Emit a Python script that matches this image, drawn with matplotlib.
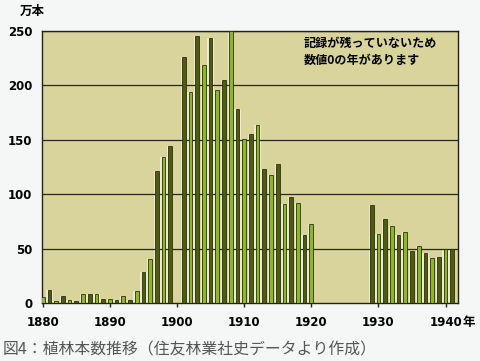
import numpy as np
import matplotlib.pyplot as plt

plt.rcParams['font.family'] = ['DejaVu Sans', 'Noto Sans CJK JP']

# dane: liczba sadzonek (万本) w kolejnych latach
years = list(range(1880, 1942))
values = [5, 12, 2, 6, 3, 2, 8, 8, 8, 4,
          4, 3, 6, 3, 11, 28, 40, 121, 134, 144,
          0, 226, 194, 245, 219, 244, 196, 205, 250, 178,
          151, 155, 164, 123, 118, 128, 91, 97, 92, 62,
          73, 0, 0, 0, 0, 0, 0, 0, 0, 90,
          63, 77, 71, 62, 65, 48, 52, 46, 41, 42,
          50, 50]
yticks = [0, 50, 100, 150, 200, 250]
xticks = [1880, 1890, 1900, 1910, 1920, 1930, 1940]
xlabels = ['1880', '1890', '1900', '1910', '1920', '1930', '1940']
note = '記録が残っていないため\n数値0の年があります'
caption = '図4：植林本数推移（住友林業社史データより作成）'

fig = plt.figure(figsize=(4.8, 3.61), dpi=100)
fig.patch.set_facecolor('#f4f7f5')
ax = fig.add_axes([0.0875, 0.161, 0.866, 0.753])
ax.set_facecolor('#d8d49c')

x = np.array(years)
y = np.array(values)
colors = ['#8db826' if yr % 2 == 0 else '#4e5c12' for yr in years]

# jasne tlo pod slupkami
ax.bar(x, y, width=0.95, color='#eeead0', edgecolor='none', zorder=1)
for v in yticks[1:]:
    ax.axhline(v, color='#2a2a1c', lw=0.9, zorder=2)
ax.bar(x, y, width=0.55, color=colors, edgecolor='#283008', linewidth=0.6, zorder=3)

ax.set_xlim(1879.9, 1941.8)
ax.set_ylim(0, 250)
ax.set_yticks(yticks)
ax.set_yticklabels([str(v) for v in yticks], fontsize=8.5, fontweight='bold')
ax.set_xticks(xticks)
ax.set_xticklabels(xlabels, fontsize=8.5, fontweight='bold')
ax.tick_params(axis='y', length=0, pad=7)
ax.tick_params(axis='x', length=3, width=1, color='#222', pad=6.5, direction='out')
for s in ax.spines.values():
    s.set_color('#222218')
    s.set_linewidth(1.0)

ax.text(1918.9, 245, note, fontsize=8.7, fontweight='bold', va='top', ha='left',
        linespacing=1.45, family=['Noto Sans CJK JP'])
fig.text(0.042, 0.968, '万本', fontsize=9, fontweight='bold', va='center', ha='left',
         family=['Noto Sans CJK JP'])
fig.text(0.963, 0.108, '年', fontsize=9, fontweight='bold', va='center', ha='left',
         family=['Noto Sans CJK JP'])
fig.text(0.006, 0.03, caption, fontsize=11.4, color='#555555', va='center', ha='left',
         family=['Noto Sans CJK JP', 'DejaVu Sans'])

plt.savefig('out.png', dpi=100, facecolor=fig.get_facecolor())
